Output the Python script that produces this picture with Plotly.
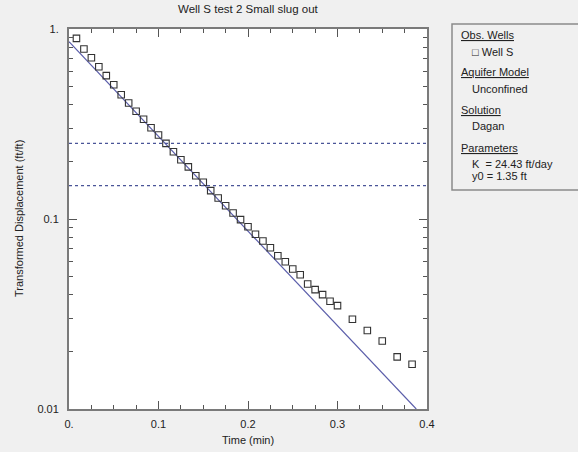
import plotly.graph_objects as go

# ---- data ----
obs_time = [k / 120 for k in list(range(1, 37)) + [38, 40, 42, 44, 46]]
obs_disp = [0.893, 0.785, 0.706, 0.633, 0.568, 0.509, 0.451, 0.408, 0.369, 0.335,
            0.302, 0.277, 0.250, 0.226, 0.205, 0.188, 0.169, 0.156, 0.141, 0.129,
            0.1175, 0.1075, 0.0992, 0.0911, 0.0831, 0.0766, 0.0706, 0.0641, 0.0596, 0.0546,
            0.0509, 0.0455, 0.0425, 0.0400, 0.0369, 0.0350,
            0.0297, 0.0259, 0.0228, 0.0188, 0.0172]
fit_time = [0.0, 0.388]
fit_disp = [0.857, 0.01]
guide_levels = [0.25, 0.15]

x_ticks = [0, 0.1, 0.2, 0.3, 0.4]
x_ticktext = ["0.", "0.1", "0.2", "0.3", "0.4"]
y_ticks = [0.01, 0.1, 1]
y_ticktext = ["0.01", "0.1", "1."]
y_minor = [m * d for d in (0.01, 0.1) for m in range(2, 10)]

title = "Well S test 2 Small slug out"
x_title = "Time (min)"
y_title = "Transformed Displacement (ft/ft)"
legend_items = [
    ("<u>Obs. Wells</u>", 0),
    ("\u25a1 Well S", 1),
    ("<u>Aquifer Model</u>", 0),
    ("Unconfined", 1),
    ("<u>Solution</u>", 0),
    ("Dagan", 1),
    ("<u>Parameters</u>", 0),
    ("K  = 24.43 ft/day", 1),
    ("y0 = 1.35 ft", 1),
]
legend_y_px = [35, 52, 72, 89, 110, 126, 148, 164, 176]

# ---- layout geometry ----
W, H = 578, 452
L, R, T, B = 69, 427, 29, 409
FONT = "Liberation Sans, Arial, sans-serif"
TXT = "#222222"
AX = "#7a7a7a"


def px_x(px):
    return (px - L) / (R - L)


def px_y(py):
    return (B - py) / (B - T)


fig = go.Figure()

fig.add_trace(go.Scatter(
    x=fit_time, y=fit_disp, mode="lines",
    line=dict(color="#5b5eaa", width=1.2), showlegend=False, hoverinfo="skip"))

fig.add_trace(go.Scatter(
    x=obs_time, y=obs_disp, mode="markers",
    marker=dict(symbol="square-open", size=6.5, color="#333333",
                line=dict(width=1.1, color="#333333")),
    showlegend=False))

for lv in guide_levels:
    fig.add_shape(type="line", xref="paper", yref="y", x0=0, x1=1, y0=lv, y1=lv,
                  line=dict(color="#4a5598", width=1.2, dash="dot"), layer="above")

# legend box
fig.add_shape(type="rect", xref="paper", yref="paper",
              x0=px_x(452), x1=px_x(590), y0=px_y(190), y1=px_y(24),
              line=dict(color="#8a8a8a", width=1.5), fillcolor="rgba(0,0,0,0)")

annotations = []
for (txt, indent), ypx in zip(legend_items, legend_y_px):
    annotations.append(dict(
        text=txt, xref="paper", yref="paper",
        x=px_x(459 + (11 if indent else 0)), y=px_y(ypx),
        xanchor="left", yanchor="middle", showarrow=False,
        font=dict(family=FONT, size=11, color=TXT)))

annotations.append(dict(text=title, xref="paper", yref="paper",
                        x=0.5, y=px_y(9), xanchor="center", yanchor="middle",
                        showarrow=False, font=dict(family=FONT, size=11.5, color=TXT)))
annotations.append(dict(text=x_title, xref="paper", yref="paper",
                        x=0.5, y=px_y(440), xanchor="center", yanchor="middle",
                        showarrow=False, font=dict(family=FONT, size=11, color=TXT)))
annotations.append(dict(text=y_title, xref="paper", yref="paper",
                        x=px_x(19), y=0.5, xanchor="center", yanchor="middle",
                        textangle=-90, showarrow=False,
                        font=dict(family=FONT, size=11, color=TXT)))

fig.update_layout(
    width=W, height=H,
    margin=dict(l=L, r=W - R, t=T, b=H - B, pad=0),
    paper_bgcolor="#f0f0f0", plot_bgcolor="#ffffff",
    annotations=annotations,
    font=dict(family=FONT, size=11, color=TXT),
    showlegend=False,
)

fig.update_xaxes(
    range=[0, 0.4], tickmode="array", tickvals=x_ticks, ticktext=x_ticktext,
    ticks="inside", ticklen=8, tickwidth=1, tickcolor="#555555",
    minor=dict(dtick=0.025, tick0=0, ticks="inside", ticklen=4, tickcolor="#555555", showgrid=False),
    showgrid=False, zeroline=False, showline=True, linecolor=AX, linewidth=2,
    mirror="allticks", ticklabelstandoff=4,
    tickfont=dict(family=FONT, size=11, color=TXT))

fig.update_yaxes(
    type="log", range=[-2, 0], tickmode="array", tickvals=y_ticks, ticktext=y_ticktext,
    ticks="inside", ticklen=8, tickwidth=1, tickcolor="#555555",
    minor=dict(tickmode="array", tickvals=y_minor, ticks="inside", ticklen=4,
               tickcolor="#555555", showgrid=False),
    showgrid=False, zeroline=False, showline=True, linecolor=AX, linewidth=2,
    mirror="allticks", ticklabelstandoff=6,
    tickfont=dict(family=FONT, size=11, color=TXT))

fig.write_html("out.html")
